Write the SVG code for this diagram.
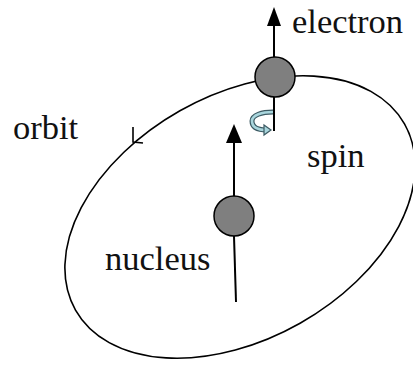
<svg xmlns="http://www.w3.org/2000/svg" width="413" height="365" viewBox="0 0 413 365">
<style>
.lbl{font-family:"Liberation Serif","Times New Roman",serif;font-size:34.5px;fill:#111}
.ln{stroke:#000;stroke-width:2;fill:none}
.ball{fill:#7f7f7f;stroke:#000;stroke-width:1.5}
.head{fill:#000}
</style>
<rect width="413" height="365" fill="#fff"/>
<g id="orbit">
<ellipse cx="240" cy="217" rx="189" ry="122" transform="rotate(-29.5 240 217)" fill="none" stroke="#000" stroke-width="1.6"/>
<path d="M133,127 L133,142 L143,143" fill="none" stroke="#000" stroke-width="1.6"/>
</g>
<g id="connectors">
<line class="ln" x1="274" y1="57" x2="274" y2="22"/>
<polygon class="head" points="274,7 281,26 267,26"/>
<line class="ln" x1="274" y1="97" x2="274" y2="131"/>
<line class="ln" x1="234" y1="196" x2="234" y2="140"/>
<polygon class="head" points="234,124 242,143 226,143"/>
<line class="ln" x1="234" y1="236" x2="236" y2="302"/>
</g>
<g id="spin-symbol">
<path d="M273,112 C262,112 252,115 252,121 C252,128 258,130 267,130" fill="none" stroke="#3c5a63" stroke-width="5"/>
<path d="M273,112 C262,112 252,115 252,121 C252,128 258,130 267,130" fill="none" stroke="#a9d6dd" stroke-width="2.6"/>
<path d="M264,125 L271,130 L264,135 Z" fill="#a9d6dd" stroke="#3c5a63" stroke-width="1.2"/>
</g>
<g id="electron">
<circle class="ball" cx="275" cy="77" r="20"/>
<text class="lbl" x="292" y="33">electron</text>
</g>
<g id="nucleus">
<circle class="ball" cx="234" cy="216" r="20"/>
<text class="lbl" x="105" y="270">nucleus</text>
</g>
<g id="orbit-label">
<text class="lbl" x="13" y="139">orbit</text>
</g>
<g id="spin-label">
<text class="lbl" x="307" y="167">spin</text>
</g>
</svg>
